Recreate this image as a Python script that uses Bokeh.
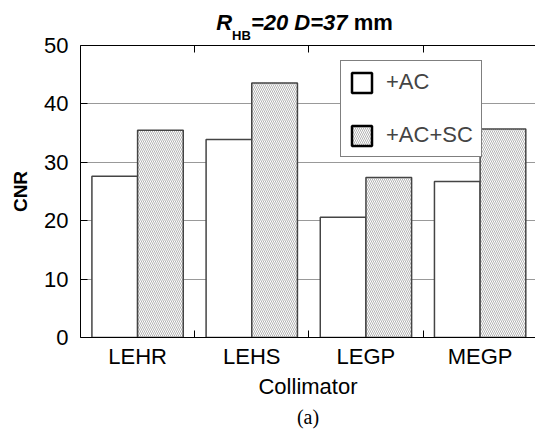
from bokeh.plotting import figure
from bokeh.models import (Range1d, FixedTicker, LinearAxis, Legend, LegendItem,
                          ColumnDataSource, Div, Title)
from bokeh.layouts import column
from bokeh.embed import file_html
from bokeh.resources import INLINE

# ---- data ----
collimators = ["LEHR", "LEHS", "LEGP", "MEGP"]
cnr_ac = [27.6, 33.9, 20.6, 26.7]
cnr_ac_sc = [35.5, 43.6, 27.4, 35.7]
series_names = ["+AC", "+AC+SC"]
y_ticks = [0, 10, 20, 30, 40, 50]
grid_ticks = [10, 20, 30, 40]

FONT = "Liberation Sans"
bar_w = 0.4
centers = [i + 0.5 for i in range(len(collimators))]
bounds = [i for i in range(1, len(collimators))]

src = ColumnDataSource(dict(
    x_ac=[c - bar_w / 2 for c in centers],
    x_sc=[c + bar_w / 2 for c in centers],
    ac=cnr_ac, sc=cnr_ac_sc))

TITLE_H = 30
p = figure(width=535, height=433 - TITLE_H, output_backend="svg",
           toolbar_location=None,
           x_range=Range1d(0, 3.985), y_range=Range1d(0, 50),
           min_border_left=80, min_border_right=0, min_border_top=15,
           min_border_bottom=96, margin=0)
p.outline_line_color = None
p.background_fill_color = "white"
p.border_fill_color = None

# axes
xa = p.xaxis[0]
xa.ticker = FixedTicker(ticks=centers, minor_ticks=bounds)
xa.major_label_overrides = {c: n for c, n in zip(centers, collimators)}
xa.major_tick_in = 0
xa.major_tick_out = 0
xa.minor_tick_in = 7
xa.minor_tick_out = 0
xa.major_label_standoff = 6
xa.major_label_text_font = FONT
xa.major_label_text_font_size = "22px"
xa.major_label_text_color = "black"
xa.axis_label = "Collimator"
xa.axis_label_text_font = FONT
xa.axis_label_text_font_size = "22px"
xa.axis_label_text_font_style = "normal"
xa.axis_label_text_color = "black"
xa.axis_label_standoff = 2
xa.axis_line_color = "black"

ya = p.yaxis[0]
ya.ticker = FixedTicker(ticks=y_ticks)
ya.major_tick_in = 7
ya.major_tick_out = 0
ya.minor_tick_line_color = None
ya.major_label_standoff = 12
ya.major_label_text_font = FONT
ya.major_label_text_font_size = "22px"
ya.major_label_text_color = "black"
ya.axis_label = "CNR"
ya.axis_label_text_font = FONT
ya.axis_label_text_font_size = "19px"
ya.axis_label_text_font_style = "bold"
ya.axis_label_text_color = "black"
ya.axis_label_standoff = 10
ya.axis_line_color = "black"

top_axis = LinearAxis(ticker=FixedTicker(ticks=[], minor_ticks=bounds),
                      major_label_text_font_size="0px",
                      major_label_standoff=0,
                      minor_tick_in=7, minor_tick_out=0,
                      major_tick_in=0, major_tick_out=0,
                      axis_line_color="black")
p.add_layout(top_axis, "above")

p.xgrid.visible = False
p.ygrid.ticker = FixedTicker(ticks=grid_ticks)
p.ygrid.grid_line_color = "#333333"
p.ygrid.grid_line_dash = "1 1"
p.ygrid.grid_line_width = 1

# bars
HATCH = dict(hatch_pattern="\\", hatch_color="#b4b4b4", hatch_scale=4,
             hatch_weight=1)
r_ac = p.vbar(x="x_ac", top="ac", width=bar_w, source=src,
              fill_color="white", line_color="#444444", line_width=1.5)
r_sc = p.vbar(x="x_sc", top="sc", width=bar_w, source=src,
              fill_color="white", line_color="#444444", line_width=1.5,
              **HATCH)

# legend proxies (NaN -> nothing drawn in the plot)
nan = float("nan")
d_ac = p.vbar(x=[nan], top=[nan], width=bar_w, fill_color="white",
              line_color="black", line_width=2.5)
d_sc = p.vbar(x=[nan], top=[nan], width=bar_w, fill_color="white",
              line_color="black", line_width=2.5, **HATCH)

legend = Legend(items=[LegendItem(label=series_names[0], renderers=[d_ac]),
                       LegendItem(label=series_names[1], renderers=[d_sc])],
                location=(260, 180), glyph_width=25, glyph_height=25,
                label_standoff=12, spacing=27, padding=8, margin=0,
                border_line_color="black", border_line_width=1,
                label_text_font=FONT, label_text_font_size="22px",
                label_height=25, background_fill_color="white",
                background_fill_alpha=1)
p.add_layout(legend)

# caption below
p.add_layout(Title(text="(a)", align="center", text_font="Liberation Serif",
                   text_font_size="20px", text_font_style="normal",
                   text_color="black", standoff=4, offset=-4), "below")

title_html = ('<i>R</i><span style="font-size:13px;position:relative;'
              'top:10px;">HB</span><i>=20 D=37</i> mm')
title_div = Div(text=title_html, width=535, height=TITLE_H, margin=0,
                styles={"font-family": FONT, "font-size": "22px",
                        "font-weight": "bold", "line-height": "22px",
                        "text-align": "center", "color": "black",
                        "padding-left": "74px", "padding-top": "12px",
                        "box-sizing": "border-box", "overflow": "visible",
                        "white-space": "nowrap"})

layout = column(title_div, p, spacing=0, margin=0)
open("out.html", "w").write(file_html(layout, INLINE))
